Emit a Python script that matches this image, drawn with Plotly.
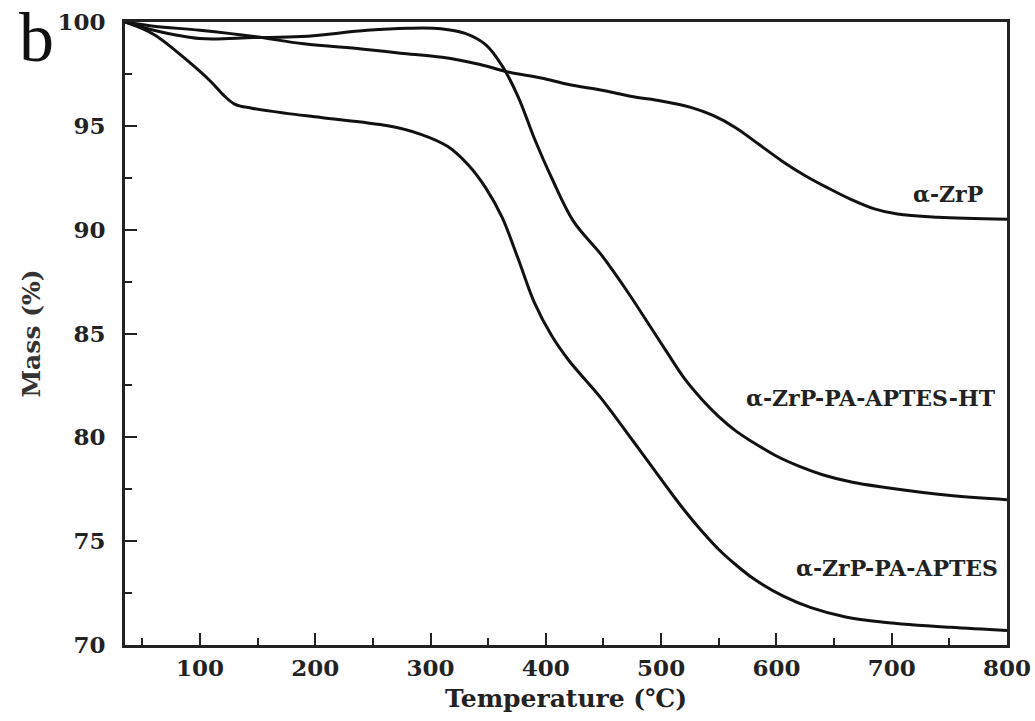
import plotly.graph_objects as go

# α-ZrP
t_zrp = [35, 60, 100, 147, 190, 240, 274, 310, 343, 367, 396, 419, 450, 476, 500, 525, 545, 565, 585, 605, 625, 645, 665, 685, 705, 740, 800]
m_zrp = [100, 99.8, 99.6, 99.3, 98.95, 98.7, 98.5, 98.3, 97.95, 97.6, 97.3, 97.0, 96.7, 96.4, 96.2, 95.9, 95.5, 94.9, 94.1, 93.3, 92.6, 92.0, 91.45, 91.0, 90.75, 90.6, 90.5]

# α-ZrP-PA-APTES-HT
t_ht = [35, 60, 100, 147, 188, 245, 280, 309, 330, 348, 362, 376, 390, 405, 424, 448, 471, 491, 505, 520, 535, 550, 565, 580, 600, 620, 640, 665, 693, 751, 800]
m_ht = [100, 99.6, 99.2, 99.25, 99.3, 99.6, 99.7, 99.68, 99.45, 98.9, 97.9, 96.4, 94.4, 92.5, 90.4, 88.8, 87.0, 85.3, 84.1, 82.85, 81.85, 81.0, 80.3, 79.75, 79.1, 78.6, 78.2, 77.85, 77.6, 77.2, 77.0]

# α-ZrP-PA-APTES
t_ap = [35, 60, 90, 110, 120, 130, 145, 175, 205, 263, 291, 315, 333, 348, 362, 376, 390, 405, 420, 447, 476, 505, 520, 535, 550, 564, 580, 606, 630, 660, 693, 751, 800]
m_ap = [100, 99.4, 98.1, 97.1, 96.5, 96.05, 95.85, 95.6, 95.4, 95.0, 94.6, 94.0, 93.1, 92.0, 90.6, 88.6, 86.5, 84.9, 83.7, 81.95, 79.8, 77.6, 76.5, 75.5, 74.6, 73.9, 73.2, 72.35, 71.8, 71.35, 71.1, 70.85, 70.7]

labels = ["α-ZrP", "α-ZrP-PA-APTES-HT", "α-ZrP-PA-APTES"]
label_x = [781, 792, 794]
label_y = [91.7, 81.9, 73.7]

x_ticks = [100, 200, 300, 400, 500, 600, 700, 800]
y_ticks = [70, 75, 80, 85, 90, 95, 100]

FONT = "DejaVu Serif"

fig = go.Figure()
for t, m in [(t_zrp, m_zrp), (t_ht, m_ht), (t_ap, m_ap)]:
    fig.add_trace(go.Scatter(x=t, y=m, mode="lines",
                             line=dict(color="#111111", width=3, shape="spline", smoothing=1.0),
                             showlegend=False, hoverinfo="skip"))

for txt, lx, ly in zip(labels, label_x, label_y):
    fig.add_annotation(x=lx, y=ly, xref="x", yref="y", text=f"<b>{txt}</b>",
                       showarrow=False, xanchor="right", yanchor="middle",
                       font=dict(family=FONT, size=22, color="#222222"))

fig.add_annotation(x=-0.123, y=1.04, xref="paper", yref="paper", text="b",
                   xanchor="left", yanchor="top", showarrow=False,
                   font=dict(family="Liberation Serif", size=70, color="#111111"))

fig.update_xaxes(range=[35, 800], tickvals=x_ticks, ticktext=[str(v) for v in x_ticks],
                 ticks="inside", ticklen=12, tickwidth=2, tickcolor="#222222",
                 showline=True, linewidth=3, linecolor="#222222", mirror=True,
                 showgrid=False, zeroline=False,
                 minor=dict(tickvals=[50, 150, 250, 350, 450, 550, 650, 750], ticks="inside",
                            ticklen=7, tickwidth=2, tickcolor="#222222"),
                 tickfont=dict(family=FONT, size=23, color="#222222", weight="bold"),
                 title=dict(text="<b>Temperature (℃)</b>", standoff=10,
                            font=dict(family=FONT, size=25, color="#222222")))
fig.update_yaxes(range=[70, 100], tickvals=y_ticks, ticktext=[str(v) for v in y_ticks],
                 ticks="inside", ticklen=12, tickwidth=2, tickcolor="#222222",
                 showline=True, linewidth=3, linecolor="#222222", mirror=True,
                 showgrid=False, zeroline=False, ticklabelstandoff=12,
                 minor=dict(tickvals=[72.5, 77.5, 82.5, 87.5, 92.5, 97.5], ticks="inside",
                            ticklen=7, tickwidth=2, tickcolor="#222222"),
                 tickfont=dict(family=FONT, size=23, color="#222222", weight="bold"),
                 title=dict(text="<b>Mass (%)</b>", standoff=10,
                            font=dict(family=FONT, size=25, color="#333333")))

fig.update_layout(width=1035, height=721, paper_bgcolor="white", plot_bgcolor="white",
                  margin=dict(l=125, r=28, t=22, b=76, autoexpand=False))

fig.write_html("out.html")
